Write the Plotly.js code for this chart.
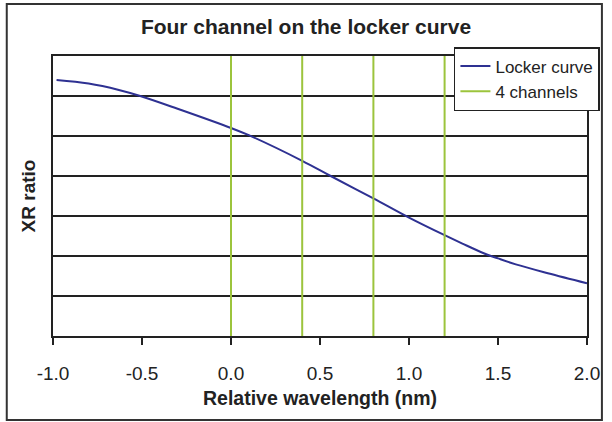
<!DOCTYPE html>
<html>
<head>
<meta charset="utf-8">
<script src="https://cdn.plot.ly/plotly-3.0.1.min.js"></script>
<style>
  html, body { margin: 0; padding: 0; background: #fff; }
  #chart { width: 612px; height: 422px; }
</style>
</head>
<body>
<div id="chart"></div>
<script>
// Locker curve
const curveX = [-0.98, -0.8, -0.63, -0.51, -0.3, 0.0, 0.1, 0.4, 0.56, 0.8, 1.0, 1.2, 1.3, 1.42, 1.5, 1.6, 1.78, 2.0];
const curveY = [6.40, 6.31, 6.15, 6.00, 5.68, 5.20, 5.02, 4.38, 4.00, 3.44, 2.96, 2.52, 2.31, 2.07, 1.94, 1.79, 1.57, 1.32];
// Channel positions (nm)
const channels = [0.0, 0.4, 0.8, 1.2];
const yRange = [0, 7];
const xTicks = [-1.0, -0.5, 0.0, 0.5, 1.0, 1.5, 2.0];

const chX = [], chY = [];
channels.forEach(c => { chX.push(c, c, null); chY.push(yRange[0], yRange[1], null); });

const FONT = '"Liberation Sans", Arial, sans-serif';

const traces = [
  {
    x: curveX, y: curveY, type: 'scatter', mode: 'lines', name: 'Locker curve',
    line: { color: '#2e3192', width: 2, shape: 'spline', smoothing: 1 }
  },
  {
    x: chX, y: chY, type: 'scatter', mode: 'lines', name: '4 channels',
    line: { color: '#9cc43c', width: 2 }
  }
];

const layout = {
  width: 612, height: 422,
  margin: { l: 53, r: 22, t: 56, b: 86 },
  paper_bgcolor: '#fff', plot_bgcolor: '#fff',
  font: { family: FONT, color: '#222' },
  title: {
    text: '<b>Four channel on the locker curve</b>',
    font: { family: FONT, size: 21, color: '#222' },
    x: 0.5, xanchor: 'center', y: 1 - 27 / 422, yref: 'container', yanchor: 'middle'
  },
  xaxis: {
    range: [-1, 2], tickvals: xTicks, ticktext: xTicks.map(v => v.toFixed(1)),
    ticks: 'outside', ticklen: 7, tickwidth: 2, tickcolor: '#222',
    ticklabelstandoff: 12,
    showline: true, linecolor: '#222', linewidth: 2, mirror: true,
    showgrid: false, zeroline: false,
    tickfont: { family: FONT, size: 19, color: '#222' },
    title: { text: '<b>Relative wavelength (nm)</b>', font: { family: FONT, size: 19.5, color: '#222' }, standoff: 9 },
    automargin: false
  },
  yaxis: {
    range: yRange, dtick: 1, showticklabels: false, ticks: '',
    showline: true, linecolor: '#222', linewidth: 2, mirror: true,
    showgrid: true, gridcolor: '#222', gridwidth: 2, zeroline: false,
    title: { text: '<b>XR ratio</b>', font: { family: FONT, size: 19, color: '#222' }, standoff: 10 },
    automargin: false
  },
  showlegend: true,
  legend: {
    x: (603 - 53) / 537, xanchor: 'right', y: (336 - 47) / 280, yanchor: 'top',
    bgcolor: '#fff', bordercolor: '#222', borderwidth: 1.5,
    font: { family: FONT, size: 17, color: '#222' },
    tracegroupgap: 0
  },
  shapes: [{
    type: 'rect', xref: 'paper', yref: 'paper',
    x0: (6.5 - 53) / 537, x1: (605 - 53) / 537,
    y0: (336 - 420) / 280, y1: (336 - 4) / 280,
    line: { color: '#333', width: 2 }, fillcolor: 'rgba(0,0,0,0)', layer: 'below'
  }]
};

Plotly.newPlot('chart', traces, layout, { staticPlot: true, displayModeBar: false });
</script>
</body>
</html>
